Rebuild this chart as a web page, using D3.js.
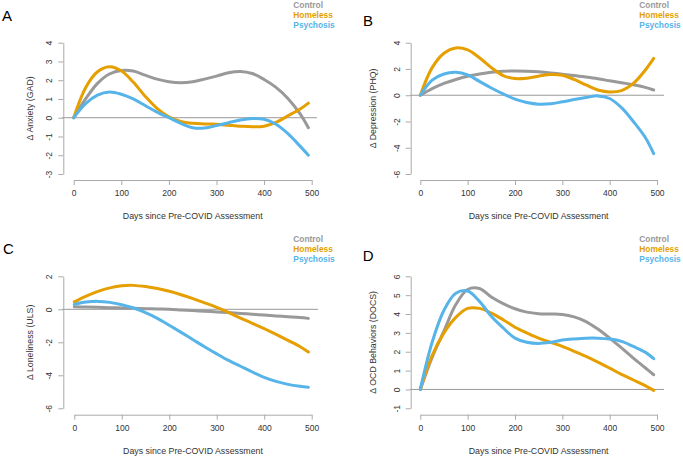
<!DOCTYPE html>
<html><head><meta charset="utf-8">
<script src="https://cdn.jsdelivr.net/npm/d3@7"></script>
<style>
html,body{margin:0;padding:0;background:#fff;}
svg{display:block;font-family:"Liberation Sans",Arial,Helvetica,sans-serif;}
</style></head>
<body>
<svg id="chart" width="683" height="457"></svg>
<script>
// ---------- data ----------
const days = [0,25,50,75,100,125,150,175,200,225,250,275,300,325,350,375,400,425,450,475,493];
const groups = ["Control","Homeless","Psychosis"];
const xTicks = [0,100,200,300,400,500];
const xTitle = "Days since Pre-COVID Assessment";

const anxietyControl   = [0,1.0,1.83,2.33,2.52,2.49,2.27,2.06,1.92,1.87,1.92,2.06,2.22,2.4,2.47,2.36,2.04,1.62,1.03,0.23,-0.53];
const anxietyHomeless  = [0,1.6,2.45,2.72,2.5,1.9,1.15,0.5,0.05,-0.2,-0.3,-0.33,-0.35,-0.4,-0.45,-0.48,-0.45,-0.25,0.1,0.45,0.78];
const anxietyPsychosis = [0,0.75,1.2,1.37,1.25,1.0,0.65,0.3,0.0,-0.3,-0.53,-0.55,-0.42,-0.27,-0.12,-0.04,-0.08,-0.35,-0.85,-1.5,-2.0];
const anxietyTicks = [-3,-2,-1,0,1,2,3,4];

const depressionControl   = [0,0.5,0.9,1.2,1.45,1.62,1.75,1.82,1.85,1.83,1.78,1.7,1.6,1.5,1.38,1.25,1.1,0.95,0.8,0.6,0.4];
const depressionHomeless  = [0,2.1,3.2,3.6,3.45,2.85,2.1,1.5,1.27,1.3,1.45,1.58,1.52,1.2,0.78,0.4,0.25,0.35,0.9,1.9,2.8];
const depressionPsychosis = [0,1.15,1.62,1.75,1.55,1.05,0.55,0.1,-0.3,-0.55,-0.68,-0.65,-0.5,-0.33,-0.18,-0.05,-0.25,-0.95,-2.0,-3.2,-4.45];
const depressionTicks = [-6,-4,-2,0,2,4];

const lonelinessControl   = [0.15,0.14,0.12,0.1,0.08,0.06,0.04,0.02,0.0,-0.04,-0.08,-0.12,-0.16,-0.2,-0.25,-0.3,-0.35,-0.4,-0.45,-0.5,-0.55];
const lonelinessHomeless  = [0.45,0.8,1.09,1.3,1.43,1.45,1.38,1.26,1.09,0.88,0.65,0.39,0.12,-0.2,-0.53,-0.85,-1.17,-1.52,-1.88,-2.25,-2.59];
const lonelinessPsychosis = [0.3,0.44,0.48,0.42,0.28,0.08,-0.2,-0.55,-0.97,-1.4,-1.84,-2.28,-2.7,-3.1,-3.45,-3.8,-4.12,-4.37,-4.55,-4.67,-4.73];
const lonelinessTicks = [-6,-4,-2,0,2];

const ocdControl   = [0,1.7,3.1,4.5,5.3,5.35,4.9,4.55,4.28,4.1,4.02,4.0,3.98,3.85,3.6,3.2,2.72,2.2,1.66,1.15,0.78];
const ocdHomeless  = [0,1.8,3.0,3.82,4.3,4.3,4.05,3.7,3.3,3.0,2.72,2.5,2.28,2.02,1.75,1.45,1.13,0.8,0.5,0.2,-0.05];
const ocdPsychosis = [0,2.5,4.2,5.1,5.22,4.67,3.88,3.26,2.72,2.5,2.44,2.5,2.62,2.68,2.72,2.72,2.67,2.55,2.28,1.98,1.63];
const ocdTicks = [-1,0,1,2,3,4,5,6];

// ---------- layout ----------
const colors = {Control:"#999999", Homeless:"#E69F00", Psychosis:"#56B4E9"};
const panels = [
  {letter:"A", lx:2, ly:21, yTitle:"\u0394 Anxiety (GAD)", ticks:anxietyTicks,
   series:[anxietyControl,anxietyHomeless,anxietyPsychosis],
   axX:63.3, xr:[73.7,311.7], yr:[174,42.7], axY:180, zx:[62,317], ytx:33, legX:293.3, legY:8},
  {letter:"B", lx:363, ly:26, yTitle:"\u0394 Depression (PHQ)", ticks:depressionTicks,
   series:[depressionControl,depressionHomeless,depressionPsychosis],
   axX:410.7, xr:[420.3,657], yr:[174,42.7], axY:180, zx:[410,664], ytx:376, legX:639.3, legY:8},
  {letter:"C", lx:3, ly:254, yTitle:"\u0394 Loneliness (ULS)", ticks:lonelinessTicks,
   series:[lonelinessControl,lonelinessHomeless,lonelinessPsychosis],
   axX:63.3, xr:[74.3,311.7], yr:[408.3,276.3], axY:414.7, zx:[62,318], ytx:33, legX:293.3, legY:242},
  {letter:"D", lx:362.7, ly:261.3, yTitle:"\u0394 OCD Behaviors (DOCS)", ticks:ocdTicks,
   series:[ocdControl,ocdHomeless,ocdPsychosis],
   axX:410.7, xr:[420.3,657], yr:[408.3,276.3], axY:414.7, zx:[410,664], ytx:376, legX:639.3, legY:242}
];

const svg = d3.select("#chart");
const axisColor = "#aaaaaa", textColor = "#333333";

panels.forEach(p => {
  const g = svg.append("g");
  const x = d3.scaleLinear().domain([0,500]).range(p.xr);
  const y = d3.scaleLinear().domain([d3.min(p.ticks), d3.max(p.ticks)]).range(p.yr);

  // zero reference line
  g.append("line").attr("x1",p.zx[0]).attr("x2",p.zx[1])
    .attr("y1",y(0)).attr("y2",y(0)).attr("stroke","#999").attr("stroke-width",1);

  // x axis
  const xa = g.append("g").attr("transform",`translate(0,${p.axY})`)
    .call(d3.axisBottom(x).tickValues(xTicks).tickSize(5).tickSizeOuter(0).tickPadding(5));
  xa.select(".domain").attr("stroke",axisColor);
  xa.selectAll(".tick line").attr("stroke",axisColor);
  xa.selectAll(".tick text").attr("fill",textColor).attr("font-size","8.5px")
    .attr("font-family","Liberation Sans, Arial, sans-serif");

  // y axis
  const ya = g.append("g").attr("transform",`translate(${p.axX},0)`)
    .call(d3.axisLeft(y).tickValues(p.ticks).tickSize(5).tickSizeOuter(0).tickFormat(d3.format("d")));
  ya.select(".domain").attr("stroke",axisColor);
  ya.selectAll(".tick line").attr("stroke",axisColor);
  ya.selectAll(".tick text").remove();
  ya.selectAll(".tick").append("text")
    .attr("transform","translate(-11,0) rotate(-90)")
    .attr("text-anchor","middle").attr("dy","0")
    .attr("fill",textColor).attr("font-size","8.5px")
    .attr("font-family","Liberation Sans, Arial, sans-serif")
    .text(d => d3.format("d")(d).replace("\u2212","-"));

  // titles
  g.append("text").attr("x",(p.xr[0]+p.xr[1])/2).attr("y",p.axY+39)
    .attr("text-anchor","middle").attr("font-size","8.8px").attr("fill",textColor).text(xTitle);
  g.append("text").attr("transform",`translate(${p.ytx},${(p.yr[0]+p.yr[1])/2}) rotate(-90)`)
    .attr("text-anchor","middle").attr("font-size","8.8px").attr("fill",textColor).text(p.yTitle);
  g.append("text").attr("x",p.lx).attr("y",p.ly).attr("font-size","15px").attr("fill","#000").text(p.letter);

  // curves
  const line = d3.line().x((d,i)=>x(days[i])).y(d=>y(d)).curve(d3.curveCatmullRom.alpha(0.5));
  p.series.forEach((s,k) => {
    g.append("path").attr("d",line(s)).attr("fill","none")
      .attr("stroke",colors[groups[k]]).attr("stroke-width",3).attr("stroke-linecap","round");
  });

  // legend
  groups.forEach((name,k) => {
    g.append("text").attr("x",p.legX).attr("y",p.legY+k*10.2)
      .attr("font-size","8.4px").attr("font-weight","bold").attr("fill",colors[name]).text(name);
  });
});
</script>
</body></html>
